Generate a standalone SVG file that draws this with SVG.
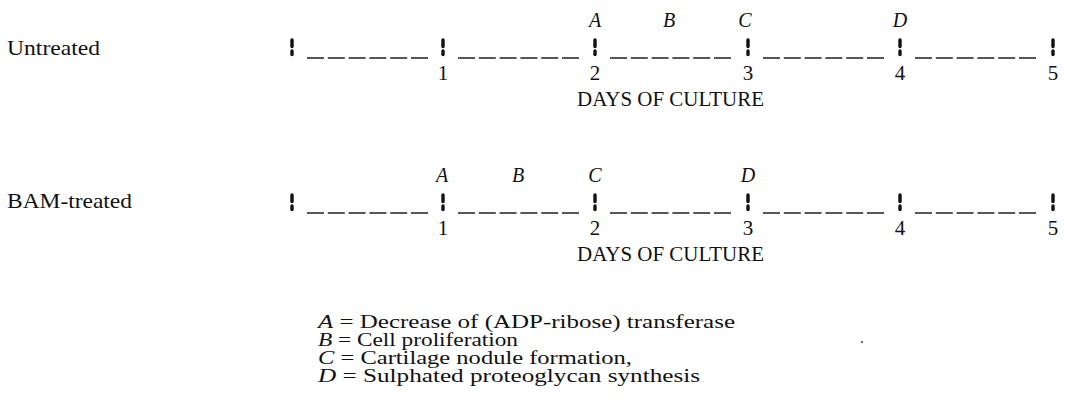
<svg xmlns="http://www.w3.org/2000/svg" width="1066" height="409" viewBox="0 0 1066 409">
<style>
text{font-family:"Liberation Serif","Times New Roman",serif;fill:#111}
.lab{font-size:21px}
.ev{font-size:20px;font-style:italic;text-anchor:middle}
.num{font-size:21px;text-anchor:middle}
.axis{font-size:20.5px}
.leg{font-size:19.5px}
.it{font-style:italic}
.dash{stroke:#222;stroke-width:1.6;stroke-dasharray:17 3.8;fill:none}
.mk{stroke:#111;stroke-width:3.4;stroke-linecap:round}
</style>
<defs>
<g id="marker">
<line class="mk" x1="0" y1="40" x2="0" y2="46.5"/>
<line class="mk" x1="0" y1="51" x2="0" y2="54.5"/>
</g>
<g id="axisline">
<use href="#marker" x="292"/>
<use href="#marker" x="443"/>
<use href="#marker" x="595"/>
<use href="#marker" x="748"/>
<use href="#marker" x="900"/>
<use href="#marker" x="1053"/>
<path class="dash" d="M307 58H428M458 58H579M610 58H732M763 58H884M915 58H1037"/>
<text class="num" x="443" y="80">1</text>
<text class="num" x="595" y="80">2</text>
<text class="num" x="748" y="80">3</text>
<text class="num" x="900" y="80">4</text>
<text class="num" x="1053" y="80">5</text>
<text class="axis" x="577" y="106" textLength="187" lengthAdjust="spacingAndGlyphs">DAYS OF CULTURE</text>
</g>
</defs>
<g id="untreated">
<text class="lab" x="7" y="55" textLength="93" lengthAdjust="spacingAndGlyphs">Untreated</text>
<use href="#axisline"/>
<text class="ev" x="595" y="27">A</text>
<text class="ev" x="669" y="27">B</text>
<text class="ev" x="745" y="27">C</text>
<text class="ev" x="900" y="27">D</text>
</g>
<g id="bam-treated">
<text class="lab" x="7" y="208" textLength="125" lengthAdjust="spacingAndGlyphs">BAM-treated</text>
<use href="#axisline" y="155"/>
<text class="ev" x="442" y="182">A</text>
<text class="ev" x="518" y="182">B</text>
<text class="ev" x="595" y="182">C</text>
<text class="ev" x="748" y="182">D</text>
</g>
<g id="connectors"></g>
<g id="legend">
<text class="leg" x="318" y="328" textLength="417" lengthAdjust="spacingAndGlyphs"><tspan class="it">A</tspan> = Decrease of (ADP-ribose) transferase</text>
<text class="leg" x="318" y="346" textLength="200" lengthAdjust="spacingAndGlyphs"><tspan class="it">B</tspan> = Cell proliferation</text>
<text class="leg" x="318" y="364" textLength="314" lengthAdjust="spacingAndGlyphs"><tspan class="it">C</tspan> = Cartilage nodule formation,</text>
<text class="leg" x="318" y="382" textLength="382" lengthAdjust="spacingAndGlyphs"><tspan class="it">D</tspan> = Sulphated proteoglycan synthesis</text>
</g>
<circle cx="862" cy="342" r="1" fill="#333"/>
</svg>
